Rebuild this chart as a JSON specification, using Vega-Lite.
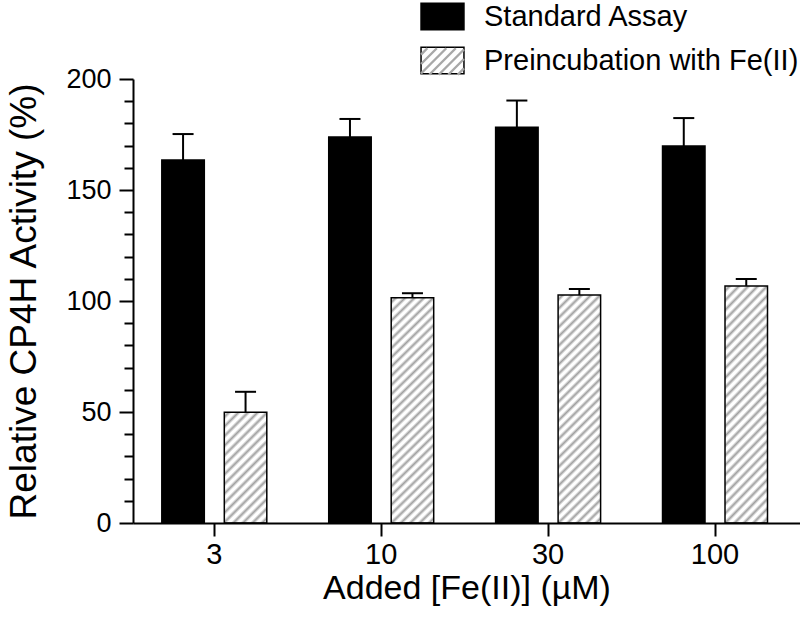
{
  "$schema": "https://vega.github.io/schema/vega-lite/v6.json",
  "width": 667,
  "height": 444,
  "autosize": {"type": "none"},
  "padding": {"left": 133, "top": 79, "right": 0, "bottom": 94},
  "background": "white",
  "config": {
    "view": {"stroke": null},
    "axis": {"grid": false}
  },
  "resolve": {"axis": {"y": "independent"}},
  "data": {
    "values": [
      {"conc": "3", "series": "Standard Assay", "value": 163.5, "upper": 175.2},
      {"conc": "10", "series": "Standard Assay", "value": 173.9, "upper": 182.0},
      {"conc": "30", "series": "Standard Assay", "value": 178.3, "upper": 190.3},
      {"conc": "100", "series": "Standard Assay", "value": 169.8, "upper": 182.4},
      {"conc": "3", "series": "Preincubation with Fe(II)", "value": 49.9, "upper": 59.1},
      {"conc": "10", "series": "Preincubation with Fe(II)", "value": 101.5, "upper": 103.5},
      {"conc": "30", "series": "Preincubation with Fe(II)", "value": 102.7, "upper": 105.4},
      {"conc": "100", "series": "Preincubation with Fe(II)", "value": 106.8, "upper": 109.9}
    ]
  },
  "encoding": {
    "x": {
      "field": "conc", "type": "nominal", "sort": ["3", "10", "30", "100"],
      "scale": {"paddingInner": 0.371, "paddingOuter": 0.1837, "align": 0.47},
      "axis": {
        "title": "Added [Fe(II)] (µM)", "titleFontSize": 34, "titlePadding": 2,
        "titleFont": "Liberation Sans", "titleFontWeight": "normal", "titleColor": "black",
        "labelFont": "Liberation Sans", "labelColor": "black",
        "labelFontSize": 29, "labelAngle": 0, "labelPadding": 4,
        "domainColor": "black", "domainWidth": 2, "zindex": 1,
        "ticks": true, "tickSize": 13, "tickWidth": 2, "tickColor": "black", "tickOpacity": 1
      }
    },
    "xOffset": {
      "field": "series", "type": "nominal",
      "sort": ["Standard Assay", "Preincubation with Fe(II)"],
      "scale": {"paddingInner": 0.32, "paddingOuter": 0}
    }
  },
  "layer": [
    {
      "mark": {"type": "bar", "stroke": "black", "strokeWidth": 1.5},
      "encoding": {
        "y": {
          "field": "value", "type": "quantitative",
          "scale": {"domain": [0, 200], "nice": false},
          "axis": {
            "orient": "left",
            "title": "Relative CP4H Activity (%)", "titleFontSize": 37, "titlePadding": 22,
            "titleFont": "Liberation Sans", "titleFontWeight": "normal", "titleColor": "black",
            "labelFont": "Liberation Sans", "labelColor": "black",
            "values": [0, 50, 100, 150, 200], "labelOverlap": false,
            "labelFontSize": 27, "labelPadding": 8,
            "domainColor": "black", "domainWidth": 2, "zindex": 1,
            "ticks": true, "tickSize": 14, "tickWidth": 2, "tickColor": "black", "tickOpacity": 1
          }
        },
        "fill": {
          "condition": [
            {"test": "datum.series === 'Preincubation with Fe(II)' && datum.value < 80",
             "value": {"gradient": "linear", "x1": 0, "y1": 0, "x2": 0.4626, "y2": 1.2060, "stops": [
              {"offset": 0, "color": "#ffffff"},
              {"offset": 0.009375, "color": "#ffffff"}, {"offset": 0.03125, "color": "#a0a0a0"}, {"offset": 0.053125, "color": "#ffffff"},
              {"offset": 0.071875, "color": "#ffffff"}, {"offset": 0.09375, "color": "#a0a0a0"}, {"offset": 0.115625, "color": "#ffffff"},
              {"offset": 0.134375, "color": "#ffffff"}, {"offset": 0.15625, "color": "#a0a0a0"}, {"offset": 0.178125, "color": "#ffffff"},
              {"offset": 0.196875, "color": "#ffffff"}, {"offset": 0.21875, "color": "#a0a0a0"}, {"offset": 0.240625, "color": "#ffffff"},
              {"offset": 0.259375, "color": "#ffffff"}, {"offset": 0.28125, "color": "#a0a0a0"}, {"offset": 0.303125, "color": "#ffffff"},
              {"offset": 0.321875, "color": "#ffffff"}, {"offset": 0.34375, "color": "#a0a0a0"}, {"offset": 0.365625, "color": "#ffffff"},
              {"offset": 0.384375, "color": "#ffffff"}, {"offset": 0.40625, "color": "#a0a0a0"}, {"offset": 0.428125, "color": "#ffffff"},
              {"offset": 0.446875, "color": "#ffffff"}, {"offset": 0.46875, "color": "#a0a0a0"}, {"offset": 0.490625, "color": "#ffffff"},
              {"offset": 0.509375, "color": "#ffffff"}, {"offset": 0.53125, "color": "#a0a0a0"}, {"offset": 0.553125, "color": "#ffffff"},
              {"offset": 0.571875, "color": "#ffffff"}, {"offset": 0.59375, "color": "#a0a0a0"}, {"offset": 0.615625, "color": "#ffffff"},
              {"offset": 0.634375, "color": "#ffffff"}, {"offset": 0.65625, "color": "#a0a0a0"}, {"offset": 0.678125, "color": "#ffffff"},
              {"offset": 0.696875, "color": "#ffffff"}, {"offset": 0.71875, "color": "#a0a0a0"}, {"offset": 0.740625, "color": "#ffffff"},
              {"offset": 0.759375, "color": "#ffffff"}, {"offset": 0.78125, "color": "#a0a0a0"}, {"offset": 0.803125, "color": "#ffffff"},
              {"offset": 0.821875, "color": "#ffffff"}, {"offset": 0.84375, "color": "#a0a0a0"}, {"offset": 0.865625, "color": "#ffffff"},
              {"offset": 0.884375, "color": "#ffffff"}, {"offset": 0.90625, "color": "#a0a0a0"}, {"offset": 0.928125, "color": "#ffffff"},
              {"offset": 0.946875, "color": "#ffffff"}, {"offset": 0.96875, "color": "#a0a0a0"}, {"offset": 0.990625, "color": "#ffffff"},
              {"offset": 1, "color": "#ffffff"}
             ]}},
            {"test": "datum.series === 'Preincubation with Fe(II)'",
             "value": {"gradient": "linear", "x1": 0, "y1": 0, "x2": 0.2117, "y2": 1.1457, "stops": [
              {"offset": 0, "color": "#ffffff"},
              {"offset": 0.00517, "color": "#ffffff"}, {"offset": 0.01724, "color": "#a0a0a0"}, {"offset": 0.02931, "color": "#ffffff"},
              {"offset": 0.03966, "color": "#ffffff"}, {"offset": 0.05172, "color": "#a0a0a0"}, {"offset": 0.06379, "color": "#ffffff"},
              {"offset": 0.07414, "color": "#ffffff"}, {"offset": 0.08621, "color": "#a0a0a0"}, {"offset": 0.09828, "color": "#ffffff"},
              {"offset": 0.10862, "color": "#ffffff"}, {"offset": 0.12069, "color": "#a0a0a0"}, {"offset": 0.13276, "color": "#ffffff"},
              {"offset": 0.14310, "color": "#ffffff"}, {"offset": 0.15517, "color": "#a0a0a0"}, {"offset": 0.16724, "color": "#ffffff"},
              {"offset": 0.17759, "color": "#ffffff"}, {"offset": 0.18966, "color": "#a0a0a0"}, {"offset": 0.20172, "color": "#ffffff"},
              {"offset": 0.21207, "color": "#ffffff"}, {"offset": 0.22414, "color": "#a0a0a0"}, {"offset": 0.23621, "color": "#ffffff"},
              {"offset": 0.24655, "color": "#ffffff"}, {"offset": 0.25862, "color": "#a0a0a0"}, {"offset": 0.27069, "color": "#ffffff"},
              {"offset": 0.28103, "color": "#ffffff"}, {"offset": 0.29310, "color": "#a0a0a0"}, {"offset": 0.30517, "color": "#ffffff"},
              {"offset": 0.31552, "color": "#ffffff"}, {"offset": 0.32759, "color": "#a0a0a0"}, {"offset": 0.33966, "color": "#ffffff"},
              {"offset": 0.35000, "color": "#ffffff"}, {"offset": 0.36207, "color": "#a0a0a0"}, {"offset": 0.37414, "color": "#ffffff"},
              {"offset": 0.38448, "color": "#ffffff"}, {"offset": 0.39655, "color": "#a0a0a0"}, {"offset": 0.40862, "color": "#ffffff"},
              {"offset": 0.41897, "color": "#ffffff"}, {"offset": 0.43103, "color": "#a0a0a0"}, {"offset": 0.44310, "color": "#ffffff"},
              {"offset": 0.45345, "color": "#ffffff"}, {"offset": 0.46552, "color": "#a0a0a0"}, {"offset": 0.47759, "color": "#ffffff"},
              {"offset": 0.48793, "color": "#ffffff"}, {"offset": 0.50000, "color": "#a0a0a0"}, {"offset": 0.51207, "color": "#ffffff"},
              {"offset": 0.52241, "color": "#ffffff"}, {"offset": 0.53448, "color": "#a0a0a0"}, {"offset": 0.54655, "color": "#ffffff"},
              {"offset": 0.55690, "color": "#ffffff"}, {"offset": 0.56897, "color": "#a0a0a0"}, {"offset": 0.58103, "color": "#ffffff"},
              {"offset": 0.59138, "color": "#ffffff"}, {"offset": 0.60345, "color": "#a0a0a0"}, {"offset": 0.61552, "color": "#ffffff"},
              {"offset": 0.62586, "color": "#ffffff"}, {"offset": 0.63793, "color": "#a0a0a0"}, {"offset": 0.65000, "color": "#ffffff"},
              {"offset": 0.66034, "color": "#ffffff"}, {"offset": 0.67241, "color": "#a0a0a0"}, {"offset": 0.68448, "color": "#ffffff"},
              {"offset": 0.69483, "color": "#ffffff"}, {"offset": 0.70690, "color": "#a0a0a0"}, {"offset": 0.71897, "color": "#ffffff"},
              {"offset": 0.72931, "color": "#ffffff"}, {"offset": 0.74138, "color": "#a0a0a0"}, {"offset": 0.75345, "color": "#ffffff"},
              {"offset": 0.76379, "color": "#ffffff"}, {"offset": 0.77586, "color": "#a0a0a0"}, {"offset": 0.78793, "color": "#ffffff"},
              {"offset": 0.79828, "color": "#ffffff"}, {"offset": 0.81034, "color": "#a0a0a0"}, {"offset": 0.82241, "color": "#ffffff"},
              {"offset": 0.83276, "color": "#ffffff"}, {"offset": 0.84483, "color": "#a0a0a0"}, {"offset": 0.85690, "color": "#ffffff"},
              {"offset": 0.86724, "color": "#ffffff"}, {"offset": 0.87931, "color": "#a0a0a0"}, {"offset": 0.89138, "color": "#ffffff"},
              {"offset": 0.90172, "color": "#ffffff"}, {"offset": 0.91379, "color": "#a0a0a0"}, {"offset": 0.92586, "color": "#ffffff"},
              {"offset": 0.93621, "color": "#ffffff"}, {"offset": 0.94828, "color": "#a0a0a0"}, {"offset": 0.96034, "color": "#ffffff"},
              {"offset": 0.97069, "color": "#ffffff"}, {"offset": 0.98276, "color": "#a0a0a0"}, {"offset": 0.99483, "color": "#ffffff"},
              {"offset": 1, "color": "#ffffff"}
             ]}}
          ],
          "field": "series", "type": "nominal",
          "scale": {
            "domain": ["Standard Assay", "Preincubation with Fe(II)"],
            "range": ["#000000", "#ffffff"]
          },
          "legend": {
            "title": null, "orient": "none", "legendX": 295, "legendY": -77, "padding": 0,
            "direction": "vertical",
            "symbolType": "M-1.62,-1H1.62V1H-1.62Z", "symbolSize": 702,
            "symbolStrokeColor": "black", "symbolStrokeWidth": 1.5, "symbolOpacity": 1,
            "labelFont": "Liberation Sans", "labelColor": "black",
            "labelFontSize": 29, "labelOffset": 27, "rowPadding": 11, "labelLimit": 0
          }
        }
      }
    },
    {
      "mark": {"type": "rule", "stroke": "black", "strokeWidth": 2},
      "encoding": {
        "y": {
          "field": "value", "type": "quantitative",
          "axis": {
            "orient": "left", "title": null, "labels": false, "domain": false, "zindex": 1,
            "values": [10, 20, 30, 40, 60, 70, 80, 90, 110, 120, 130, 140, 160, 170, 180, 190],
            "ticks": true, "tickSize": 9, "tickWidth": 2, "tickColor": "black", "tickOpacity": 1
          }
        },
        "y2": {"field": "upper"}
      }
    },
    {
      "mark": {"type": "point", "shape": "M-1,0H1", "size": 441, "filled": false, "stroke": "black", "strokeWidth": 2, "opacity": 1},
      "encoding": {
        "y": {"field": "upper", "type": "quantitative", "axis": null}
      }
    },
    {
      "mark": {"type": "point", "size": 0, "opacity": 0},
      "encoding": {
        "y": {"field": "value", "type": "quantitative", "axis": null},
        "shape": {
          "field": "series", "type": "nominal",
          "scale": {
            "domain": ["Standard Assay", "Preincubation with Fe(II)", "-"],
            "range": ["M0,0", "M-1.62,-0.525L-1.145,-1M-1.62,0.19L-0.43,-1M-1.62,0.905L0.285,-1M-1,1L1,-1M-0.285,1L1.62,-0.905M0.43,1L1.62,-0.19M1.145,1L1.62,0.525", "M0,0"]
          },
          "legend": {
            "title": null, "orient": "none", "legendX": 295, "legendY": -77, "padding": 0,
            "direction": "vertical", "symbolSize": 702,
            "symbolStrokeColor": "#a8a8a8", "symbolStrokeWidth": 2.4, "symbolFillColor": "transparent", "symbolOpacity": 1,
            "labelFont": "Liberation Sans",
            "labelFontSize": 29, "labelOffset": 27, "rowPadding": 11, "labelExpr": "' '"
          }
        }
      }
    }
  ]
}
